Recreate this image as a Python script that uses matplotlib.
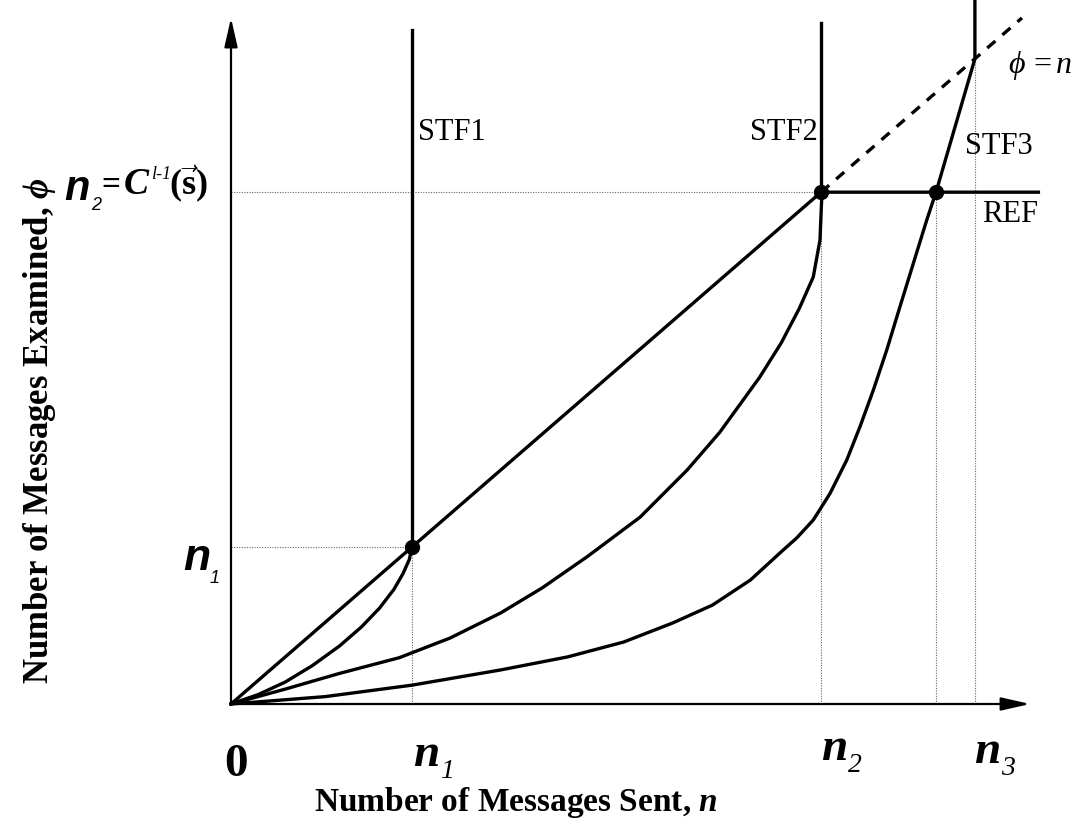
import numpy as np
import matplotlib.pyplot as plt

plt.rcParams['font.family'] = ['Liberation Serif', 'DejaVu Serif']
plt.rcParams['mathtext.fontset'] = 'custom'
plt.rcParams['mathtext.rm'] = 'Liberation Serif'
plt.rcParams['mathtext.it'] = 'Liberation Serif:italic'
plt.rcParams['mathtext.bf'] = 'Liberation Serif:bold'
plt.rcParams['mathtext.bfit'] = 'Liberation Serif:italic:bold'

# levels (n on x, phi on y, the phi = n line has slope 1)
n1 = 1.0
n2 = 3.26
n3 = 4.11
n_ref3 = 3.895     # where STF3 meets REF

# STF curves
stf1_n = [0, 0.15, 0.30, 0.45, 0.60, 0.72, 0.82, 0.90, 0.95, 0.985, 1.0]
stf1_phi = [0, 0.06, 0.14, 0.245, 0.37, 0.49, 0.61, 0.73, 0.83, 0.92, 1.0]
stf1_top = 4.29

stf2_n = [0, 0.30, 0.60, 0.93, 1.21, 1.49, 1.72, 1.97, 2.26, 2.52, 2.70, 2.92, 3.04, 3.14,
          3.217, 3.254, 3.265]
stf2_phi = [0, 0.095, 0.195, 0.295, 0.42, 0.58, 0.74, 0.94, 1.19, 1.49, 1.73, 2.08, 2.30, 2.52,
            2.72, 2.955, 3.26]
stf2_top = 4.34

stf3_n = [0, 0.52, 1.0, 1.49, 1.86, 2.17, 2.44, 2.66, 2.87, 3.05, 3.125, 3.217, 3.309, 3.402,
          3.475, 3.549, 3.623, 3.696, 3.770, 3.844, n_ref3, n3, n3]
stf3_phi = [0, 0.047, 0.12, 0.217, 0.30, 0.395, 0.516, 0.63, 0.79, 0.98, 1.057, 1.172, 1.34,
            1.554, 1.766, 2.0, 2.255, 2.531, 2.807, 3.083, n2, n3, 4.7]

ref_n = [0, n1, n2, 4.47]
ref_phi = [0, n1, n2, n2]
diag_end = 4.37

dots_n = [n1, n2, n_ref3]
dots_phi = [n1, n2, n2]

# pixel mapping of the drawing
XU, YU = 181.0, 157.0
X0, Y0 = 231.0, 704.0


def P(px, py):
    return (px - X0) / XU, (Y0 - py) / YU


fig = plt.figure(figsize=(10.8, 8.33), dpi=100)
ax = fig.add_axes([0, 0, 1, 1])
ax.set_xlim(-X0 / XU, (1080 - X0) / XU)
ax.set_ylim(-(833 - Y0) / YU, Y0 / YU)
ax.axis('off')

LW = 2.4
# dotted guides
gkw = dict(color='#666666', lw=0.8, ls=(0, (1, 1.3)))
ax.plot([0, n1], [n1, n1], **gkw)
ax.plot([0, n2], [n2, n2], **gkw)
ax.plot([n1, n1], [0, n1], **gkw)
ax.plot([n2, n2], [0, n2], **gkw)
ax.plot([n_ref3, n_ref3], [0, n2], **gkw)
ax.plot([n3, n3], [0, n3], **gkw)

# axes with arrows
akw = dict(arrowstyle='-|>,head_length=1.1,head_width=0.25', lw=1.6, color='black',
           mutation_scale=16, shrinkA=0, shrinkB=0)
ax.annotate('', xy=(4.415, 0), xytext=(0, 0), arrowprops=akw)
ax.annotate('', xy=(0, 4.37), xytext=(0, 0), arrowprops=akw)

# curves
ax.plot(ref_n, ref_phi, color='black', lw=LW, solid_capstyle='butt')
ax.plot([n2, diag_end], [n2, diag_end], color='black', lw=LW, ls=(0, (3.2, 2.8)))
ax.plot(stf1_n, stf1_phi, color='black', lw=LW)
ax.plot([n1, n1], [n1, stf1_top], color='black', lw=LW)
ax.plot(stf2_n, stf2_phi, color='black', lw=LW)
ax.plot([n2, n2], [n2, stf2_top], color='black', lw=LW)
ax.plot(stf3_n, stf3_phi, color='black', lw=LW)
ax.plot(dots_n, dots_phi, 'o', color='black', ms=10)

# curve labels
lab = dict(fontsize=22, va='center')
ax.text(*P(418, 132), 'STF1', ha='left', **lab)
ax.text(*P(818, 132), 'STF2', ha='right', **lab)
ax.text(*P(965, 146), 'STF3', ha='left', **lab)
ax.text(*P(982, 215), 'REF', ha='left', **lab)
ax.text(*P(1008, 65), r'$\phi\,=\mathit{n}$', ha='left', va='center', fontsize=23)

# x tick labels
bi = dict(fontweight='bold', fontstyle='italic', va='baseline', ha='left')
ax.text(*P(236, 776), '0', ha='center', va='baseline', fontsize=34, fontweight='bold')
for px, py, sub in [(413, 766, '1'), (821, 760, '2'), (974, 763, '3')]:
    ax.text(*P(px, py), 'n', fontsize=34, **bi)
    ax.text(*P(px + 27, py + 12), sub, fontsize=20, fontstyle='italic', va='baseline', ha='left')

# y tick labels (sans, bold italic)
sbi = dict(family='Liberation Sans', fontweight='bold', fontstyle='italic', va='baseline', ha='left')
si = dict(family='Liberation Sans', fontstyle='italic', va='baseline', ha='left')
ax.text(*P(183, 570), 'n', fontsize=32, **sbi)
ax.text(*P(210, 583), '1', fontsize=13, **si)
ax.text(*P(64, 200), 'n', fontsize=30, **sbi)
ax.text(*P(91, 210), '2', fontsize=13, **si)
ax.text(*P(101, 194), '=', fontsize=24, fontweight='bold', va='baseline', ha='left')
ax.text(*P(124, 194), 'C', fontsize=27, **bi)
ax.text(*P(151, 179), 'l-1', fontsize=13, fontstyle='italic', va='baseline', ha='left')
ax.text(*P(169, 194), r'$\mathbf{(}\vec{\mathbf{s}}\mathbf{)}$', fontsize=26, va='baseline', ha='left')

# axis titles
ax.text(*P(516, 803), r'Number of Messages Sent, $\mathbfit{n}$', ha='center', va='center',
        fontsize=24, fontweight='bold')
ax.text(*P(40, 431), r'Number of Messages Examined, $\mathbfit{\phi}$', ha='center', va='center',
        rotation=90, fontsize=25, fontweight='bold')

fig.savefig('out.png', dpi=100)
